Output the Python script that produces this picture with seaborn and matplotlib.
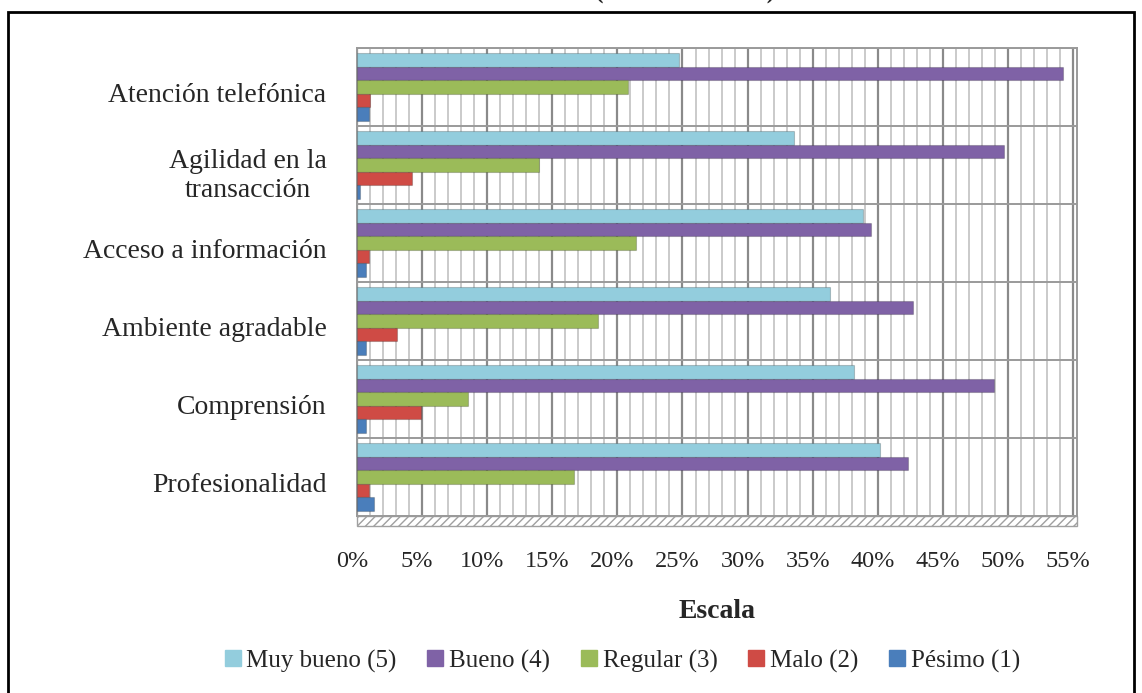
import seaborn as sns
import pandas as pd
import matplotlib.pyplot as plt
import matplotlib.transforms as mtransforms
from matplotlib.patches import Rectangle
from matplotlib.lines import Line2D

# data (percent)
aspectos = ['Atención telefónica', 'Agilidad en la\ntransacción', 'Acceso a información',
            'Ambiente agradable', 'Comprensión', 'Profesionalidad']
escalas = ['Muy bueno (5)', 'Bueno (4)', 'Regular (3)', 'Malo (2)', 'Pésimo (1)']
muy_bueno = [24.7, 33.6, 38.9, 36.3, 38.2, 40.2]
bueno = [54.2, 49.7, 39.5, 42.7, 48.9, 42.3]
regular = [20.8, 14.0, 21.4, 18.5, 8.5, 16.7]
malo = [1.0, 4.2, 0.9, 3.1, 4.9, 0.9]
pesimo = [0.9, 0.2, 0.7, 0.7, 0.7, 1.3]
x_ticks = [0, 5, 10, 15, 20, 25, 30, 35, 40, 45, 50, 55]
x_labels = ['0%', '5%', '10%', '15%', '20%', '25%', '30%', '35%', '40%', '45%', '50%', '55%']

colores = ['#93CDDD', '#7F62A6', '#9BBB59', '#CF4B45', '#4A7EBB']

sns.set_theme(style='white')
plt.rcParams['font.family'] = ['Liberation Serif', 'DejaVu Serif']

valores = [muy_bueno, bueno, regular, malo, pesimo]
df = pd.DataFrame([(a, e, v[i]) for e, v in zip(escalas, valores)
                   for i, a in enumerate(aspectos)],
                  columns=['Aspecto', 'Escala', 'Valor'])

fig = plt.figure(figsize=(11.42, 6.93), dpi=100)
ax = fig.add_axes([357 / 1142, 1 - 516 / 693, 720 / 1142, 468 / 693])

# grid: minor line every 1%, stronger every 5%
for v in range(0, 56):
    major = v % 5 == 0
    ax.axvline(v, color='#8a8a8a' if major else '#bcbcbc',
               lw=1.6 if major else 1.1, zorder=0)
for b in range(len(aspectos) + 1):
    ax.axhline(b - 0.5, color='#9a9a9a', lw=1.4, zorder=0)

sns.barplot(data=df, x='Valor', y='Aspecto', hue='Escala', orient='h',
            palette=colores, width=0.86, dodge=True, ax=ax,
            saturation=1, legend=False, zorder=3)
for bar in ax.patches:
    bar.set_edgecolor('#00000033')
    bar.set_linewidth(0.8)

ax.set_xlim(0, 55.3)
ax.set_ylim(len(aspectos) - 0.5, -0.5)
ax.set_xticks(x_ticks)
ax.set_xticklabels(x_labels, fontsize=17.5)
ax.tick_params(axis='x', pad=25, length=0)
ax.tick_params(axis='y', pad=22, length=0, labelsize=20)
shift_x = mtransforms.ScaledTranslation(-5 / 100, 0, fig.dpi_scale_trans)
for t in ax.get_xticklabels():
    t.set_transform(t.get_transform() + shift_x)
shift_y = mtransforms.ScaledTranslation(0, -6 / 100, fig.dpi_scale_trans)
for t in ax.get_yticklabels():
    t.set_multialignment('center')
    t.set_transform(t.get_transform() + shift_y)
ax.set_ylabel('')
ax.set_xlabel('Escala', fontsize=20, fontweight='bold', labelpad=20)
for s in ax.spines.values():
    s.set_color('#9a9a9a')
    s.set_linewidth(1.4)

# hatched floor under the plot
ax.add_patch(Rectangle((0, -0.022), 1, 0.022, transform=ax.transAxes,
                       facecolor='white', edgecolor='#a0a0a0', hatch='////',
                       lw=1, clip_on=False))

handles = [Line2D([], [], marker='s', ls='', markersize=12, color=c) for c in colores]
fig.legend(handles, escalas, loc='center', bbox_to_anchor=(622 / 1142, 1 - 661 / 693),
           ncol=5, frameon=False, fontsize=18, handlelength=0.7,
           handletextpad=0.2, columnspacing=1.2)

# outer frame and clipped title
fig.add_artist(Rectangle((8 / 1142, -0.05), 1126 / 1142, 1.05 - 12 / 693,
                         transform=fig.transFigure, fill=False, ec='black', lw=2))
fig.text(581 / 1142, 1 - 3 / 693, 'Gráfico 02. Cliente (Cliente externo)', ha='center',
         va='bottom', fontsize=18, fontweight='bold')

fig.savefig('out.png', dpi=100)
